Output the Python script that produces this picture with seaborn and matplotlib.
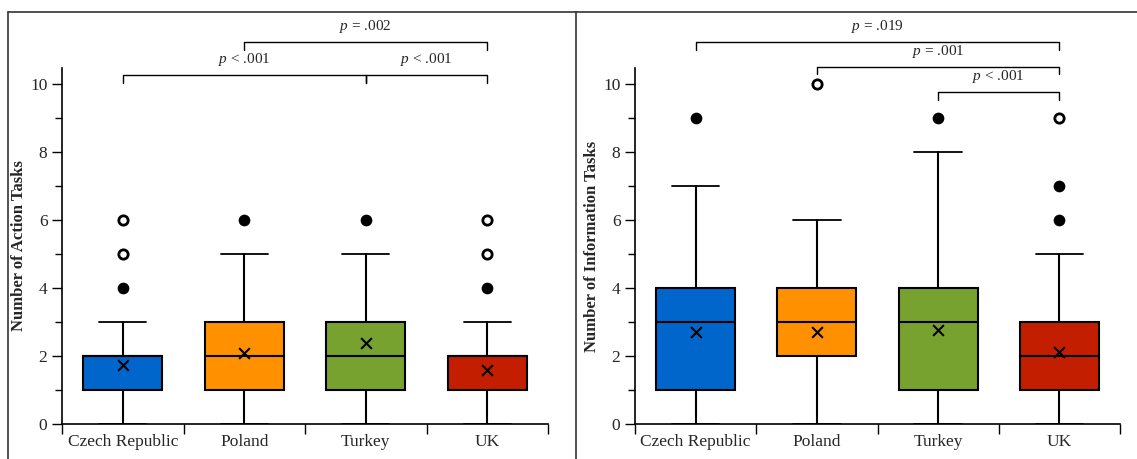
import numpy as np
import pandas as pd
import matplotlib
matplotlib.use("Agg")
import matplotlib.pyplot as plt
from matplotlib.lines import Line2D
import seaborn as sns

# valores (quartis, bigodes, médias e outliers)
countries = ["Czech Republic", "Poland", "Turkey", "UK"]
colors = ["#0066CC", "#FF9100", "#78A22F", "#C41E00"]

action_lo = [0, 0, 0, 0]
action_q1 = [1, 1, 1, 1]
action_med = [2, 2, 2, 2]
action_q3 = [2, 3, 3, 2]
action_hi = [3, 5, 5, 3]
action_mean = [1.73, 2.08, 2.37, 1.60]
action_out = [[4], [6], [6], [4]]
action_far = [[5, 6], [], [], [5, 6]]
action_pairs = [(0, 2), (2, 3), (1, 3)]
action_p = ["$p$ < .001", "$p$ < .001", "$p$ = .002"]
action_bar_y = [10.26, 10.26, 11.24]

info_lo = [0, 0, 0, 0]
info_q1 = [1, 2, 1, 1]
info_med = [3, 3, 3, 2]
info_q3 = [4, 4, 4, 3]
info_hi = [7, 6, 8, 5]
info_mean = [2.70, 2.72, 2.76, 2.12]
info_out = [[9], [], [9], [6, 7]]
info_far = [[], [10], [], [9]]
info_pairs = [(2, 3), (1, 3), (0, 3)]
info_p = ["$p$ < .001", "$p$ = .001", "$p$ = .019"]
info_bar_y = [9.77, 10.51, 11.24]

sns.set_style("ticks")
plt.rcParams["font.family"] = ["Liberation Serif", "DejaVu Serif"]
plt.rcParams["mathtext.fontset"] = "custom"
plt.rcParams["mathtext.it"] = "Liberation Serif:italic"
plt.rcParams["mathtext.rm"] = "Liberation Serif"


def draw_panel(ax, lo, q1, med, q3, hi, mean, out, far, pairs, ptxt, bar_y, ylabel):
    stats = []
    for i in range(len(countries)):
        stats.append(dict(whislo=lo[i], q1=q1[i], med=med[i], q3=q3[i], whishi=hi[i],
                          mean=mean[i], fliers=[], label=countries[i]))
    bp = ax.bxp(stats, positions=range(len(countries)), widths=0.65, patch_artist=True,
                showfliers=False, showmeans=False,
                boxprops=dict(edgecolor="black", linewidth=1.5),
                medianprops=dict(color="black", linewidth=1.5),
                whiskerprops=dict(color="black", linewidth=1.5),
                capprops=dict(color="black", linewidth=1.3), capwidths=0.39)
    for patch, c in zip(bp["boxes"], colors):
        patch.set_facecolor(c)

    # médias (x) e outliers
    dfm = pd.DataFrame({"x": range(len(countries)), "y": mean})
    sns.scatterplot(data=dfm, x="x", y="y", marker="x", s=60, color="black",
                    linewidth=1.5, ax=ax, zorder=5)
    xo = [i for i, v in enumerate(out) for _ in v]
    yo = [y for v in out for y in v]
    ax.scatter(xo, yo, s=55, color="black", zorder=5, clip_on=False)
    xf = [i for i, v in enumerate(far) for _ in v]
    yf = [y for v in far for y in v]
    ax.scatter(xf, yf, s=45, facecolor="white", edgecolor="black", linewidth=2,
               zorder=5, clip_on=False)

    # colchetes de significância
    for (a, b), t, y in zip(pairs, ptxt, bar_y):
        ax.plot([a, a, b, b], [y - 0.23, y, y, y - 0.23], color="black", lw=1.0,
                clip_on=False)
        ax.text((a + b) / 2, y + 0.2, t, ha="center", va="bottom", fontsize=11)

    ax.set_xlim(-0.5, 3.5)
    ax.set_ylim(0, 10.47)
    ax.set_xticks(range(len(countries)))
    ax.set_xticklabels(countries, fontsize=12.5)
    ax.set_xticks(np.arange(-0.5, 4, 1), minor=True)
    ax.tick_params(axis="x", which="major", length=0, pad=7)
    ax.tick_params(axis="x", which="minor", length=7, width=1, direction="out", color="black")
    ax.set_yticks(range(0, 11, 2))
    ax.set_yticks(range(1, 11, 2), minor=True)
    ax.tick_params(axis="y", which="major", length=7, width=1, labelsize=12.5, color="black")
    ax.tick_params(axis="y", which="minor", length=5, width=1, color="black")
    ax.set_xlabel("")
    ax.set_ylabel(ylabel, fontsize=12, fontweight="bold", labelpad=2)
    for s in ["top", "right"]:
        ax.spines[s].set_visible(False)
    for s in ["left", "bottom"]:
        ax.spines[s].set_color("black")
        ax.spines[s].set_linewidth(1.2)


fig = plt.figure(figsize=(11.37, 4.59), dpi=100)
ax1 = fig.add_axes([62 / 1137, 1 - 424 / 459, 486 / 1137, 356 / 459])
ax2 = fig.add_axes([635 / 1137, 1 - 424 / 459, 485 / 1137, 356 / 459])

draw_panel(ax1, action_lo, action_q1, action_med, action_q3, action_hi, action_mean,
           action_out, action_far, action_pairs, action_p, action_bar_y,
           "Number of Action Tasks")
draw_panel(ax2, info_lo, info_q1, info_med, info_q3, info_hi, info_mean,
           info_out, info_far, info_pairs, info_p, info_bar_y,
           "Number of Information Tasks")

# moldura
top = 1 - 12 / 459
fig.add_artist(Line2D([8 / 1137, 1], [top, top], color="#333333", lw=1.2))
fig.add_artist(Line2D([8 / 1137, 8 / 1137], [0, top], color="#333333", lw=1.2))
fig.add_artist(Line2D([576 / 1137, 576 / 1137], [0, top], color="#333333", lw=1.2))

fig.savefig("out.png", dpi=100)
